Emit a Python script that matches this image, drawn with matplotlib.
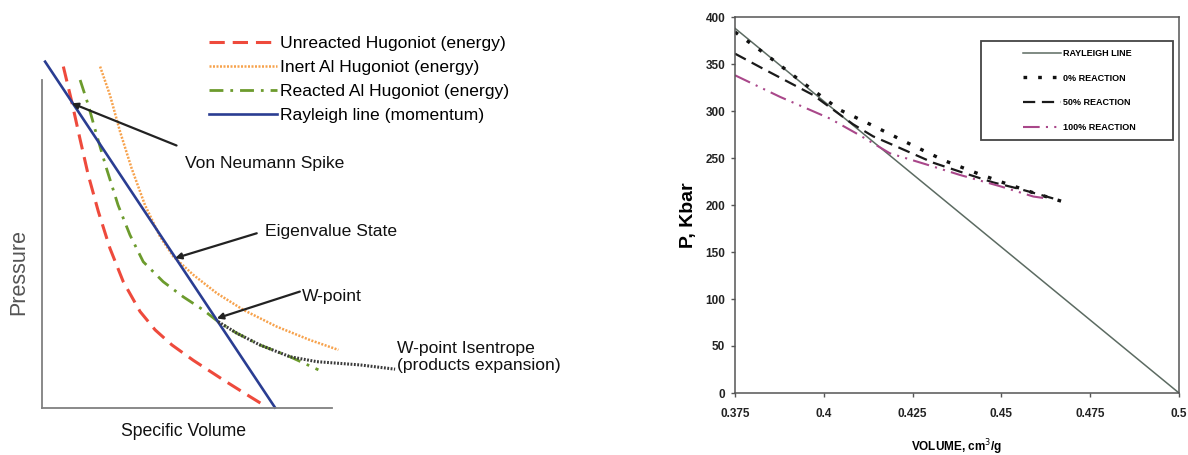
import matplotlib
matplotlib.use("Agg")
import matplotlib.pyplot as plt
from matplotlib import font_manager
from matplotlib.patches import Rectangle

names = {f.name for f in font_manager.fontManager.ttflist}
NARROW = ['Liberation Sans Narrow', 'Liberation Sans', 'DejaVu Sans'] if 'Liberation Sans Narrow' in names else ['Liberation Sans', 'DejaVu Sans']
REG = ['Liberation Sans', 'DejaVu Sans']

# ---------------- Left panel data (schematic, normalized units) ----------------
ray_v = [0.009, 0.803]
ray_p = [1.056, 0.0]
unr_v = [0.072, 0.101, 0.129, 0.158, 0.193, 0.233, 0.279, 0.337, 0.389, 0.447, 0.521, 0.625, 0.717, 0.774]
unr_p = [1.041, 0.934, 0.822, 0.710, 0.598, 0.486, 0.384, 0.293, 0.237, 0.191, 0.144, 0.084, 0.033, 0.002]
inert_v = [0.199, 0.233, 0.268, 0.308, 0.354, 0.406, 0.452, 0.521, 0.602, 0.694, 0.809, 0.924, 1.022]
inert_p = [1.041, 0.954, 0.842, 0.730, 0.618, 0.522, 0.461, 0.405, 0.349, 0.298, 0.247, 0.206, 0.176]
reac_v = [0.130, 0.158, 0.187, 0.221, 0.261, 0.302, 0.348, 0.417, 0.486, 0.555, 0.607, 0.671, 0.751, 0.855, 0.953]
reac_p = [1.000, 0.924, 0.832, 0.730, 0.618, 0.527, 0.445, 0.384, 0.338, 0.298, 0.262, 0.227, 0.191, 0.155, 0.115]
isen_v = [0.607, 0.671, 0.751, 0.855, 0.947, 1.097, 1.218]
isen_p = [0.262, 0.227, 0.191, 0.155, 0.140, 0.130, 0.117]
left_labels = ['Unreacted Hugoniot (energy)', 'Inert Al Hugoniot (energy)',
               'Reacted Al Hugoniot (energy)', 'Rayleigh line (momentum)']

# ---------------- Right panel data ----------------
r_ray_v = [0.375, 0.5]
r_ray_p = [388, 0]
v0 = [0.375, 0.3834, 0.3938, 0.4046, 0.4135, 0.4247, 0.4341, 0.443, 0.4496, 0.459, 0.4678]
p0 = [384, 361, 331, 301, 285, 264, 247, 234, 225, 213, 203]
v50 = [0.375, 0.3829, 0.397, 0.4082, 0.4139, 0.4206, 0.4308, 0.4403, 0.4477, 0.4552, 0.4655]
p50 = [361, 345, 317, 286, 273, 262, 245, 233, 224, 217, 206]
v100 = [0.375, 0.3877, 0.4017, 0.4102, 0.4186, 0.429, 0.4383, 0.4496, 0.459, 0.4627]
p100 = [338, 315, 292, 274, 255, 243, 232, 220, 209, 207]
right_labels = ['RAYLEIGH LINE', '0% REACTION', '50% REACTION', '100% REACTION']
xticks = [0.375, 0.4, 0.425, 0.45, 0.475, 0.5]
xticklabels = ['0.375', '0.4', '0.425', '0.45', '0.475', '0.5']
yticks = [0, 50, 100, 150, 200, 250, 300, 350, 400]

W, H = 1188, 455
fig = plt.figure(figsize=(W / 100, H / 100), dpi=100)

def fr(x0, y0, x1, y1):
    return [x0 / W, 1 - y1 / H, (x1 - x0) / W, (y1 - y0) / H]

# ---------------- Left ----------------
ax = fig.add_axes(fr(42.5, 80, 332, 407.5))
ax.set_xlim(0, 1)
ax.set_ylim(0, 1)
for s in ['top', 'right']:
    ax.spines[s].set_visible(False)
for s in ['left', 'bottom']:
    ax.spines[s].set_color('#808080')
    ax.spines[s].set_linewidth(1.3)
ax.set_xticks([])
ax.set_yticks([])

l1, = ax.plot(unr_v, unr_p, color='#ee4a3c', lw=2.2, dashes=(5, 2.6), clip_on=False)
l2, = ax.plot(inert_v, inert_p, color='#f7a24c', lw=1.8, dashes=(0.8, 0.6), clip_on=False)
l3, = ax.plot(reac_v, reac_p, color='#6c9b2d', lw=2.0, dashes=(5, 2.5, 1, 2.5), clip_on=False)
l4, = ax.plot(ray_v, ray_p, color='#2a3d92', lw=1.9, clip_on=False)
ax.plot(isen_v, isen_p, color='#3a3a3a', lw=2.2, dashes=(0.6, 0.5), clip_on=False)

ax.legend([l1, l2, l3, l4], left_labels, loc='center left',
          bbox_to_anchor=(209 / W, 1 - 79.5 / H), bbox_transform=fig.transFigure,
          frameon=False, prop={'family': NARROW, 'size': 12.6},
          handlelength=3.9, handletextpad=0.15, labelspacing=0.5,
          borderpad=0, borderaxespad=0)

tkw = dict(family=NARROW, size=12.6, color='#111111')
akw = dict(arrowstyle='-|>', color='#222222', lw=1.6, mutation_scale=9, shrinkA=0, shrinkB=0)
ax.annotate('', xy=(0.101, 0.929), xytext=(0.463, 0.800), arrowprops=akw, annotation_clip=False)
ax.text(0.492, 0.746, 'Von Neumann Spike', va='center', ha='left', **tkw)
ax.annotate('', xy=(0.458, 0.456), xytext=(0.740, 0.532), arrowprops=akw, annotation_clip=False)
ax.text(0.769, 0.537, 'Eigenvalue State', va='center', ha='left', **tkw)
ax.annotate('', xy=(0.602, 0.272), xytext=(0.889, 0.354), arrowprops=akw, annotation_clip=False)
ax.text(0.895, 0.338, 'W-point', va='center', ha='left', **tkw)
ax.text(1.2245, 0.153, 'W-point Isentrope\n(products expansion)', va='center', ha='left',
        linespacing=1.15, **tkw)

ax.set_ylabel('Pressure', family=REG, size=15.5, color='#555555')
ax.yaxis.set_label_coords(-0.083, 0.415)
ax.set_xlabel('Specific Volume', family=NARROW, size=12.7, color='#111111')
ax.xaxis.set_label_coords(0.487, -0.074)
ax.xaxis.label.set_va('center')
ax.yaxis.label.set_va('center')

# ---------------- Right ----------------
bx = fig.add_axes(fr(735, 17, 1179, 393))
bx.set_xlim(0.375, 0.5)
bx.set_ylim(0, 400)
for s in bx.spines.values():
    s.set_color('#555555')
    s.set_linewidth(1.1)
r1, = bx.plot(r_ray_v, r_ray_p, color='#5c6b62', lw=1.1)
r2, = bx.plot(v0, p0, color='#111111', lw=2.4, dashes=(1.1, 3.3))
r3, = bx.plot(v50, p50, color='#1a1a1a', lw=1.6, dashes=(5.5, 3))
r4, = bx.plot(v100, p100, color='#a9478a', lw=1.5, dashes=(8, 3, 1, 3, 1, 3))
bx.set_xticks(xticks)
bx.set_xticklabels(xticklabels)
bx.set_yticks(yticks)
bx.tick_params(direction='out', length=3, width=1, color='#555555', pad=8)
for lab in bx.get_xticklabels() + bx.get_yticklabels():
    lab.set_family(NARROW)
    lab.set_fontweight('bold')
    lab.set_fontsize(8.5)
    lab.set_color('#222222')
bx.tick_params(axis='y', pad=4)
bx.set_xlabel('VOLUME, cm$^3$/g', family=NARROW, weight='bold', size=8.5, labelpad=12)
bx.set_ylabel('P, Kbar', family=REG, weight='bold', size=14)
bx.yaxis.set_label_coords(-0.0856, 0.473)

bx.add_patch(Rectangle((0.554, 0.673), 0.432, 0.263, transform=bx.transAxes,
                       fill=False, edgecolor='#444444', lw=1.3, zorder=5))
bx.legend([r1, r2, r3, r4], right_labels, loc='center left',
          bbox_to_anchor=(0.649, 0.8045), frameon=False,
          prop={'family': NARROW, 'weight': 'bold', 'size': 6.5},
          handlelength=4.2, handletextpad=0.2, labelspacing=1.75,
          borderpad=0, borderaxespad=0)

fig.savefig('out.png', dpi=100)
